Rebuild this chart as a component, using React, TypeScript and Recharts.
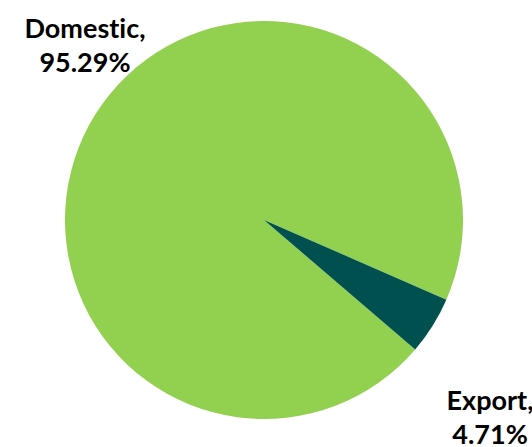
import React from "react"
import { PieChart, Pie, Cell } from "recharts"

const categories = ["Domestic", "Export"]
const shares = [95.29, 4.71]
const colors = ["#92D050", "#005050"]

const data = categories.map((name, i) => ({ name, value: shares[i] }))

// label anchor (first baseline) relative to pie centre
const labelOffsets: Record<string, { dx: number; dy: number }> = {
  Domestic: { dx: -179, dy: -182 },
  Export: { dx: 226, dy: 190 },
}

const font = "Lato, 'Noto Sans', sans-serif"

function renderLabel(props: any) {
  const { cx, cy, name, value } = props
  const off = labelOffsets[name]
  const x = cx + off.dx
  const y = cy + off.dy
  return (
    <text
      x={x}
      y={y}
      textAnchor="middle"
      fill="#000"
      fontFamily={font}
      fontWeight={700}
      fontSize={27}
      style={{ fontVariantLigatures: "none" }}
    >
      <tspan x={x} dy={0}>{name},</tspan>
      <tspan x={x} dy={34}>{value.toFixed(2)}%</tspan>
    </text>
  )
}

export default function App() {
  return (
    <div style={{ position: "absolute", left: 0, top: 0, background: "#fff" }}>
      <PieChart width={532} height={447}>
        <Pie
          data={data}
          dataKey="value"
          nameKey="name"
          cx={259}
          cy={215}
          outerRadius={199}
          startAngle={-23.6}
          endAngle={336.4}
          stroke="none"
          label={renderLabel}
          labelLine={false}
          isAnimationActive={false}
        >
          {data.map((d, i) => (
            <Cell key={d.name} fill={colors[i]} />
          ))}
        </Pie>
      </PieChart>
    </div>
  )
}
